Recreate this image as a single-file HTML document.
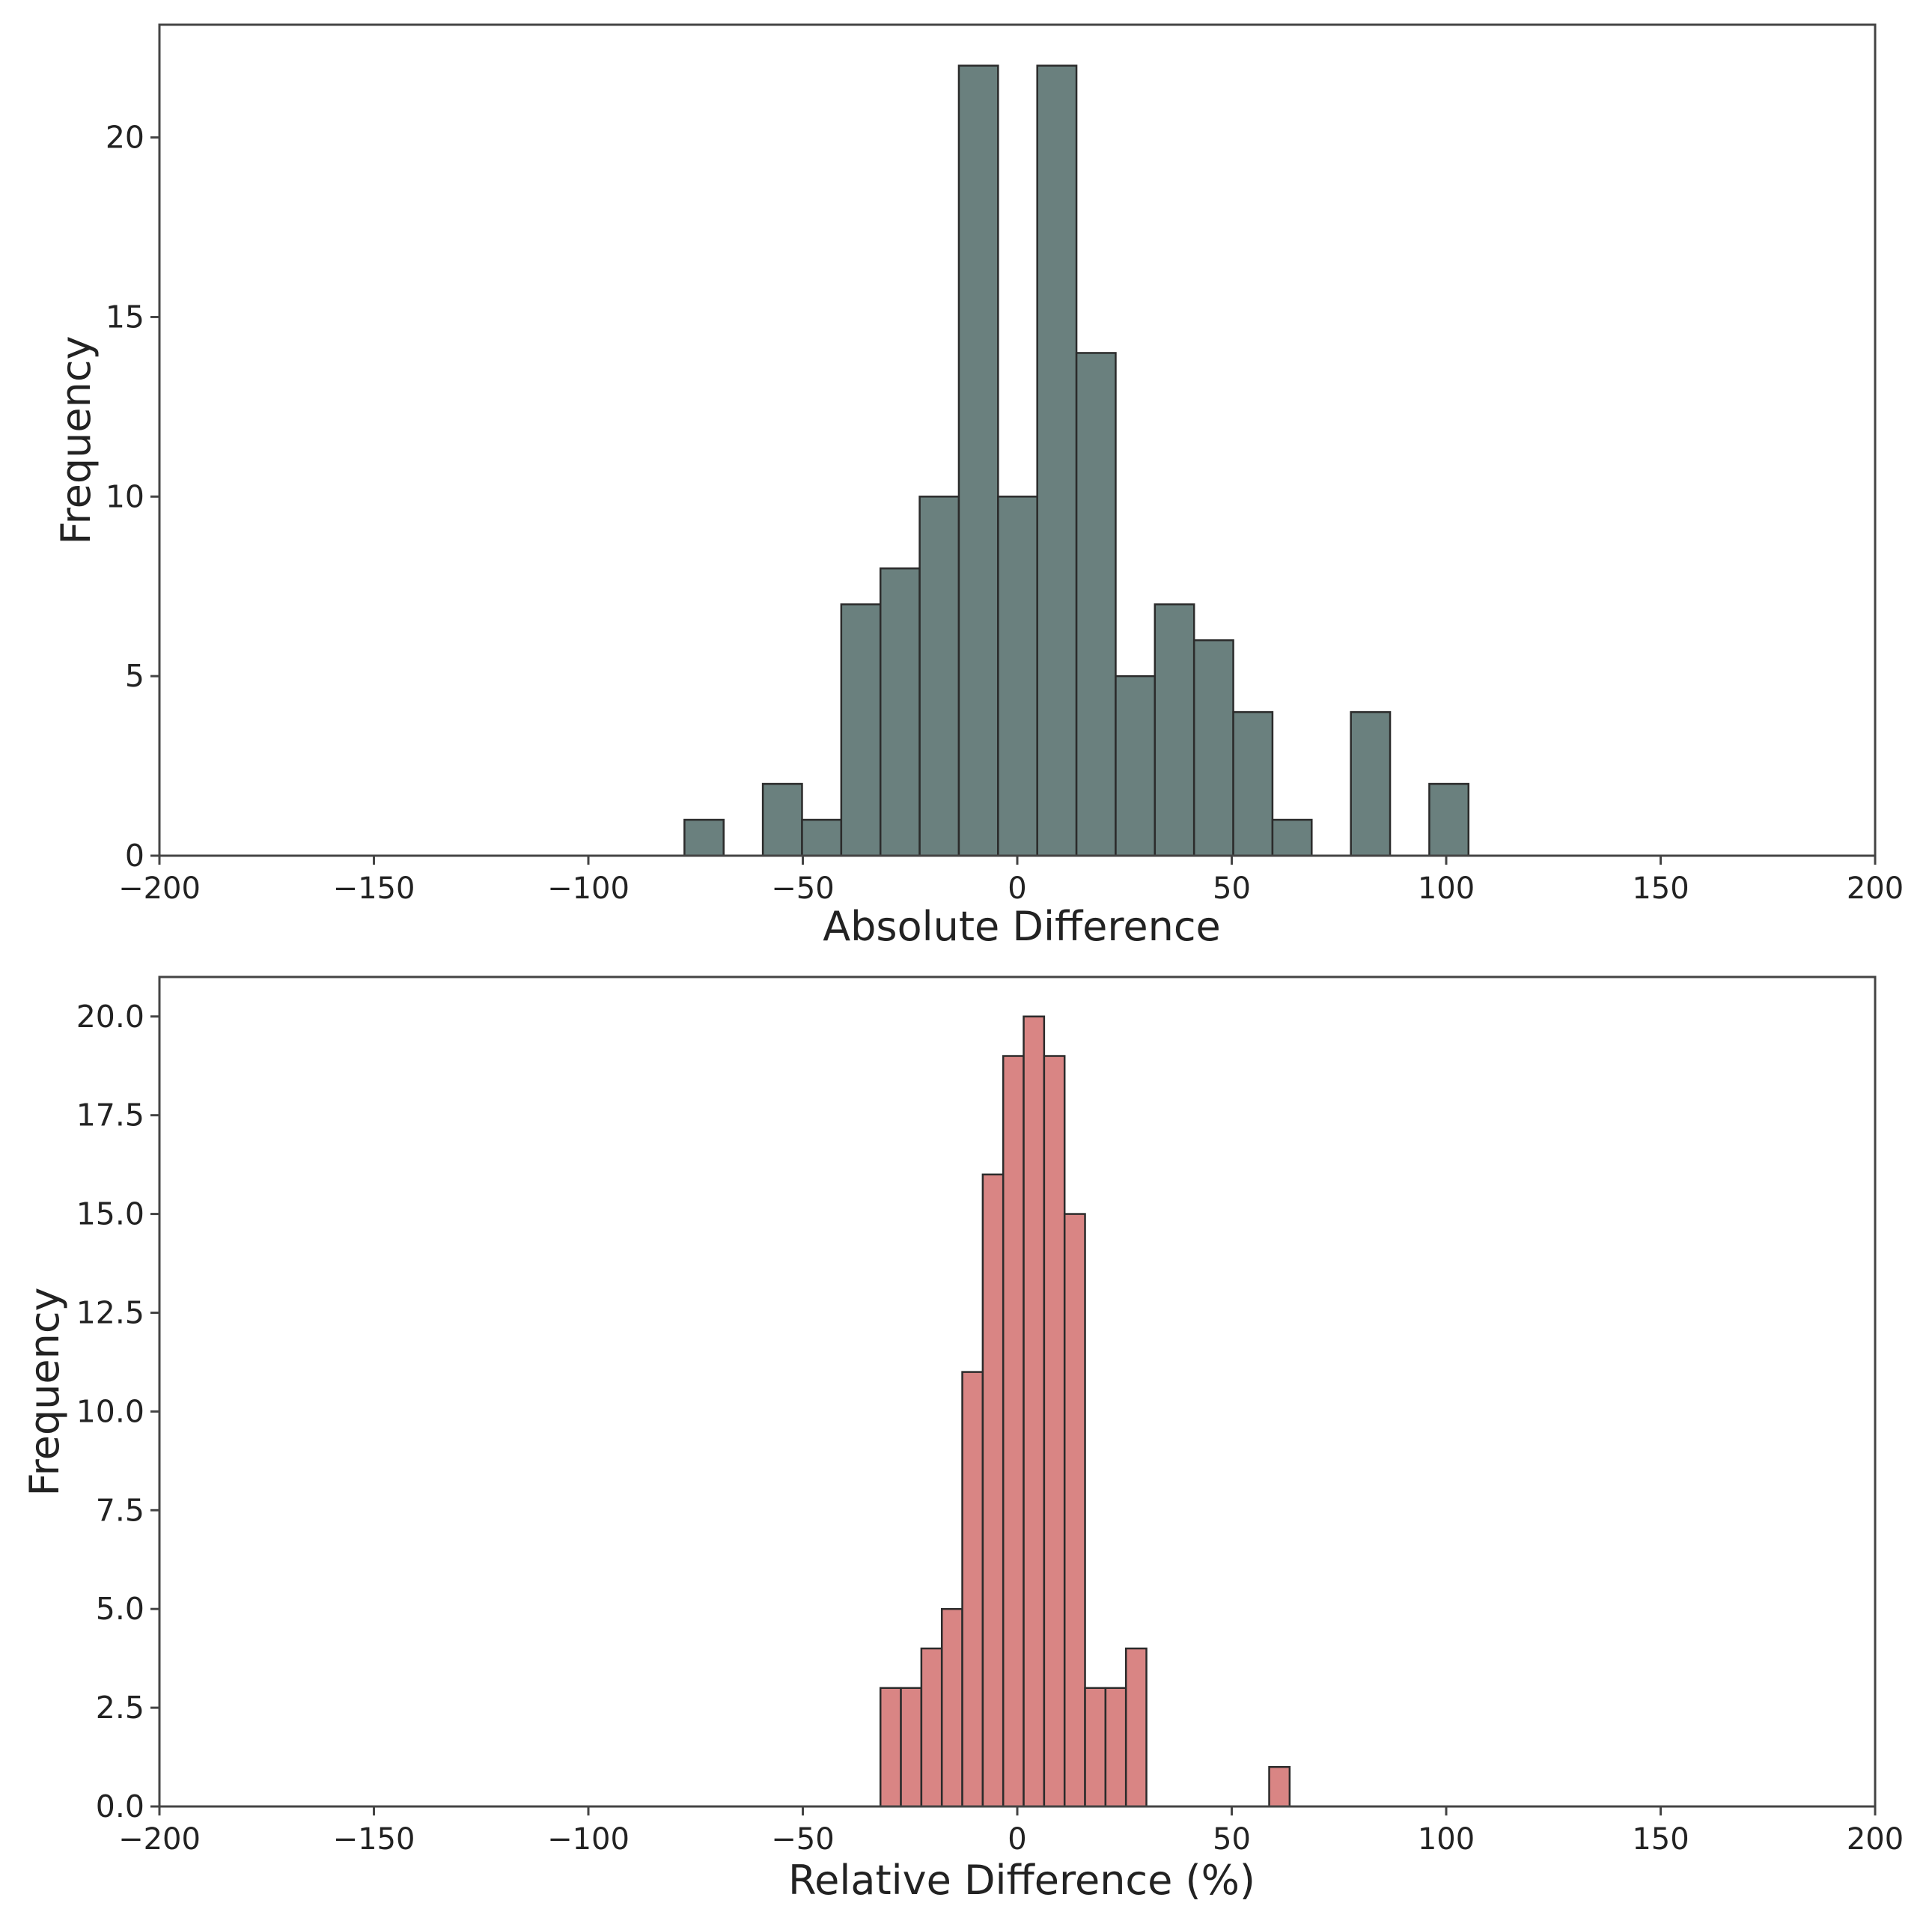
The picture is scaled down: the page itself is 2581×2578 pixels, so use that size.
<!DOCTYPE html>
<html><head><meta charset="utf-8"><style>
html,body{margin:0;padding:0;background:#fff;}
svg{display:block;font-family:"DejaVu Sans","Liberation Sans",sans-serif;}
</style></head><body>
<svg id="chart" width="2581" height="2578" viewBox="0 0 2581 2578" xmlns="http://www.w3.org/2000/svg"></svg>
<script>
const absCounts = [1,0,2,1,7,8,10,22,10,22,14,5,7,6,4,1,0,4,0,2];
const absStart = -77.6;
const absBinWidth = 9.14;
const relCounts = [3,3,4,5,11,16,19,20,19,15,3,3,4,0,0,0,0,0,0,1];
const relStart = -31.9;
const relBinWidth = 4.77;
const xTicks = [-200,-150,-100,-50,0,50,100,150,200];
const xTickLabels = ["\u2212200","\u2212150","\u2212100","\u221250","0","50","100","150","200"];
const absYTicks = [0,5,10,15,20];
const absYTickLabels = ["0","5","10","15","20"];
const relYTicks = [0,2.5,5,7.5,10,12.5,15,17.5,20];
const relYTickLabels = ["0.0","2.5","5.0","7.5","10.0","12.5","15.0","17.5","20.0"];

const svg = document.getElementById('chart');
const NS = 'http://www.w3.org/2000/svg';
function mk(tag, attrs, parent){ const e=document.createElementNS(NS,tag); for(const k in attrs) e.setAttribute(k,attrs[k]); (parent||svg).appendChild(e); return e; }

function panel(cfg){
  const L=213, R=2505, T=cfg.top, B=cfg.bottom;
  const xS = v => L + (v + 200) / 400 * (R - L);
  const yS = v => B - v / cfg.ymax * (B - T);
  const g = mk('g', {});
  
  
  cfg.counts.forEach((c, i) => {
    if (c <= 0) return;
    const x0 = xS(cfg.start + i * cfg.bw), x1 = xS(cfg.start + (i + 1) * cfg.bw);
    const r = mk('rect', {x:x0, y:yS(c), width:x1-x0, height:B-yS(c), fill:cfg.color, stroke:'#2b2b2b', 'stroke-width':2.5}, g);
    
    
  });
  const frame = mk('rect', {x:L, y:T, width:R-L, height:B-T, fill:'none', stroke:'#444', 'stroke-width':3}, g);
  
  
  xTicks.forEach((v, i) => {
    mk('line', {x1:xS(v), x2:xS(v), y1:B, y2:B+12, stroke:'#444', 'stroke-width':3}, g);
    const t = mk('text', {x:xS(v), y:B+57, 'font-size':40, 'text-anchor':'middle', fill:'#222'}, g);
    t.textContent = xTickLabels[i];
    
    
  });
  cfg.yTicks.forEach((v, i) => {
    mk('line', {x1:L-12, x2:L, y1:yS(v), y2:yS(v), stroke:'#444', 'stroke-width':3}, g);
    const t = mk('text', {x:L-20, y:yS(v)+14, 'font-size':41, 'text-anchor':'end', fill:'#222'}, g);
    t.textContent = cfg.yLabels[i];
    
    
  });
  const xt = mk('text', {x:1365, y:cfg.xTitleY, 'font-size':54, 'text-anchor':'middle', fill:'#222'}, g);
  xt.textContent = cfg.xTitle;
  
  
  const yt = mk('text', {x:0, y:0, 'font-size':54, 'text-anchor':'middle', fill:'#222', transform:'translate(' + cfg.yTitleX + ',' + ((T+B)/2) + ') rotate(-90)'}, g);
  yt.textContent = 'Frequency';
  
  
}

panel({name:'absolute-difference-histogram', barName:'abs-bar', top:33, bottom:1143, ymax:23.14,
  counts:absCounts, start:absStart, bw:absBinWidth, color:'#6a807e',
  yTicks:absYTicks, yLabels:absYTickLabels, xTitle:'Absolute Difference', xTitleY:1256, yTitleX:120});
panel({name:'relative-difference-histogram', barName:'rel-bar', top:1305, bottom:2413, ymax:21.0,
  counts:relCounts, start:relStart, bw:relBinWidth, color:'#d98584',
  yTicks:relYTicks, yLabels:relYTickLabels, xTitle:'Relative Difference (%)', xTitleY:2530, yTitleX:78});
</script>
</body></html>
